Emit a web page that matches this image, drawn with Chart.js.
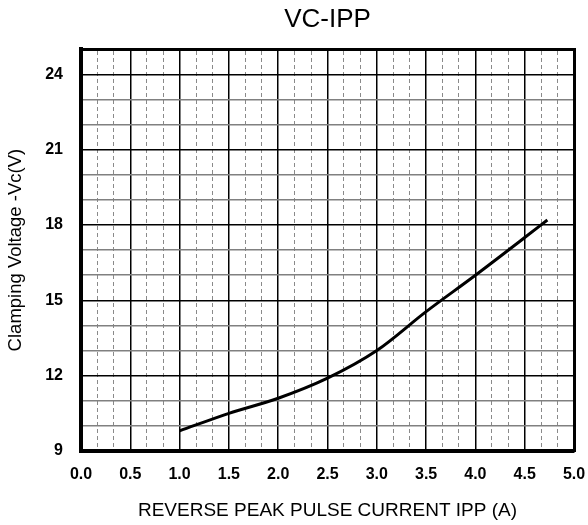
<!DOCTYPE html>
<html>
<head>
<meta charset="utf-8">
<script src="https://cdn.jsdelivr.net/npm/chart.js@4.4.1/dist/chart.umd.min.js"></script>
<style>
    html, body { margin: 0; padding: 0; background: #fff; }
    #wrap { width: 588px; height: 525px; }
</style>
</head>
<body>
<div id="wrap"><canvas id="vc-chart"></canvas></div>
<script>
const ipp = [1.0, 1.5, 2.0, 2.5, 3.0, 3.5, 4.0, 4.5, 4.73];
const vc = [9.8, 10.5, 11.1, 11.9, 13.0, 14.55, 16.0, 17.5, 18.2];
const xTicks = [0, 0.5, 1.0, 1.5, 2.0, 2.5, 3.0, 3.5, 4.0, 4.5, 5.0];
const yTicks = [9, 12, 15, 18, 21, 24];

const vcChart = document.getElementById('vc-chart');

new Chart(vcChart, {
    type: 'line',
    data: {
        datasets: [
            {
                label: 'VC-IPP',
                data: ipp.map((x, i) => ({ x: x, y: vc[i] })),
                borderColor: '#000',
                borderWidth: 3,
                pointRadius: 0,
                cubicInterpolationMode: 'monotone',
                fill: false
            }
        ]
    },
    options: {
        responsive: true,
        maintainAspectRatio: false,
        animation: false,
        layout: {
            padding: { left: 0, right: 14, top: 0, bottom: 0 }
        },
        plugins: {
            legend: { display: false },
            tooltip: { enabled: false },
            title: {
                display: true,
                text: 'VC-IPP',
                fullSize: false,
                color: '#000',
                font: { family: 'Liberation Sans, Arial, sans-serif', size: 26, weight: 'normal' },
                padding: { top: 4, bottom: 14 }
            }
        },
        scales: {
            x: {
                type: 'linear',
                position: 'bottom',
                min: 0,
                max: 5,
                afterBuildTicks: (scale) => {
                    scale.ticks = xTicks.map(v => ({ value: v }));
                },
                // the "5.0" label fits inside the 14px right padding
                afterFit: (scale) => {
                    scale.paddingRight = 0;
                },
                ticks: {
                    color: '#000',
                    padding: 14,
                    font: { family: 'Liberation Sans, Arial, sans-serif', size: 16, weight: 'bold' },
                    callback: (v) => Number(v).toFixed(1)
                },
                grid: { color: '#000', lineWidth: 1.5, drawTicks: false },
                border: { color: '#000', width: 4 },
                title: {
                    display: true,
                    text: 'REVERSE PEAK PULSE CURRENT IPP (A)',
                    color: '#000',
                    font: { family: 'Liberation Sans, Arial, sans-serif', size: 19 },
                    padding: { top: 1, bottom: 3 }
                }
            },
            xMinor: {
                type: 'linear',
                position: 'top',
                min: 0,
                max: 5,
                ticks: { display: false, stepSize: 1 / 6 },
                grid: {
                    z: -2,
                    drawTicks: false,
                    lineWidth: 1,
                    color: (ctx) => ctx.index % 3 === 0 ? 'rgba(0,0,0,0)' : '#8a8a8a'
                },
                border: { display: true, color: '#000', width: 3, dash: [4, 3] }
            },
            y: {
                type: 'linear',
                position: 'left',
                min: 9,
                max: 25,
                ticks: {
                    stepSize: 1,
                    color: '#000',
                    padding: 18,
                    font: { family: 'Liberation Sans, Arial, sans-serif', size: 16, weight: 'bold' },
                    callback: (v) => yTicks.includes(v) ? String(v) : ''
                },
                grid: {
                    drawTicks: false,
                    lineWidth: 1.5,
                    color: (ctx) => yTicks.includes(ctx.tick && ctx.tick.value) ? '#000' : '#808080'
                },
                border: { color: '#000', width: 4 },
                title: {
                    display: true,
                    text: 'Clamping Voltage -Vc(V)',
                    color: '#000',
                    font: { family: 'Liberation Sans, Arial, sans-serif', size: 18.5 },
                    padding: { top: 5, bottom: 0 }
                }
            },
            yRight: {
                type: 'linear',
                position: 'right',
                min: 9,
                max: 25,
                afterFit: (scale) => {
                    scale.width = 0;
                },
                ticks: { display: false },
                grid: { display: false, drawTicks: false },
                border: { color: '#000', width: 3 }
            }
        }
    }
});
</script>
</body>
</html>
